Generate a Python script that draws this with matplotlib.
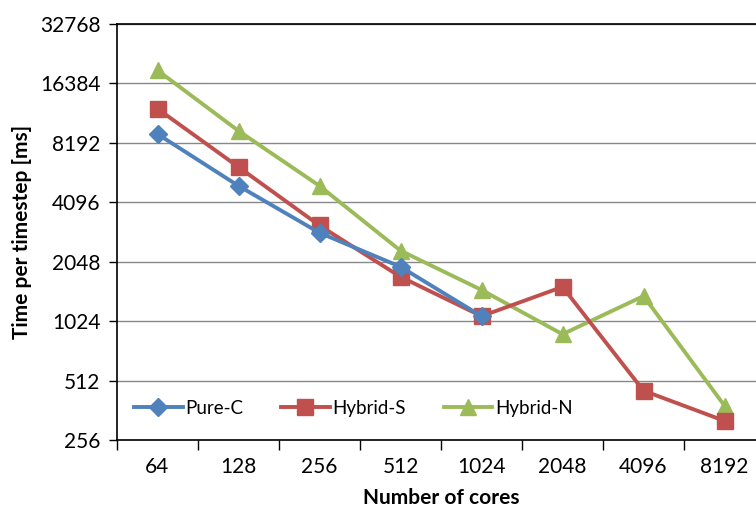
import numpy as np
import matplotlib
matplotlib.use("Agg")
import matplotlib.pyplot as plt
from matplotlib.ticker import FixedLocator, NullFormatter

plt.rcParams['font.family'] = ['Lato', 'DejaVu Sans']

cores = ["64", "128", "256", "512", "1024", "2048", "4096", "8192"]
pure_c = [9080, 4960, 2870, 1930, 1085]
hybrid_s = [12200, 6180, 3125, 1717, 1085, 1527, 455, 320]
hybrid_n = [19090, 9420, 4960, 2330, 1474, 879, 1372, 382]
yticks = [256, 512, 1024, 2048, 4096, 8192, 16384, 32768]

fig = plt.figure(figsize=(7.56, 5.11), dpi=100)
ax = fig.add_axes([117/756, 71/511, 648/756, 416/511])

x = np.arange(len(cores))
ax.plot(x[:len(pure_c)], pure_c, color='#4F81BD', lw=2.8, marker='D', ms=9, label='Pure-C', zorder=4)
ax.plot(x, hybrid_s, color='#C0504D', lw=2.8, marker='s', ms=11, label='Hybrid-S', zorder=3)
ax.plot(x, hybrid_n, color='#9BBB59', lw=2.8, marker='^', ms=12, label='Hybrid-N', zorder=2)

ax.set_yscale('log', base=2)
ax.set_ylim(256, 32768)
ax.yaxis.set_major_locator(FixedLocator(yticks))
ax.set_yticklabels([str(v) for v in yticks])
ax.yaxis.set_minor_formatter(NullFormatter())
ax.yaxis.set_minor_locator(FixedLocator([]))
ax.grid(axis='y', color='#888888', lw=1)
ax.set_axisbelow(True)

ax.set_xlim(-0.5, len(cores) - 0.5)
ax.set_xticks(x)
ax.set_xticklabels(cores)
ax.set_xticks(np.arange(len(cores) + 1) - 0.5, minor=True)
ax.tick_params(axis='x', which='major', length=0, pad=12, labelsize=15)
ax.tick_params(axis='x', which='minor', length=7, width=1, direction='out')
ax.tick_params(axis='y', length=6, width=1, direction='out', labelsize=15, pad=6)

for side in ['left', 'bottom', 'top']:
    ax.spines[side].set_color('black')
    ax.spines[side].set_linewidth(1.2)
ax.spines['right'].set_visible(False)

ax.set_xlabel('Number of cores', fontsize=15, fontweight='bold', labelpad=8)
ax.set_ylabel('Time per timestep [ms]', fontsize=15, fontweight='bold', labelpad=6)

ax.legend(loc='lower left', bbox_to_anchor=(0.0, 0.015), ncol=3, frameon=False,
          fontsize=13.5, handlelength=2.6, columnspacing=2.0, handletextpad=0.15)

fig.savefig('out.png', dpi=100)
